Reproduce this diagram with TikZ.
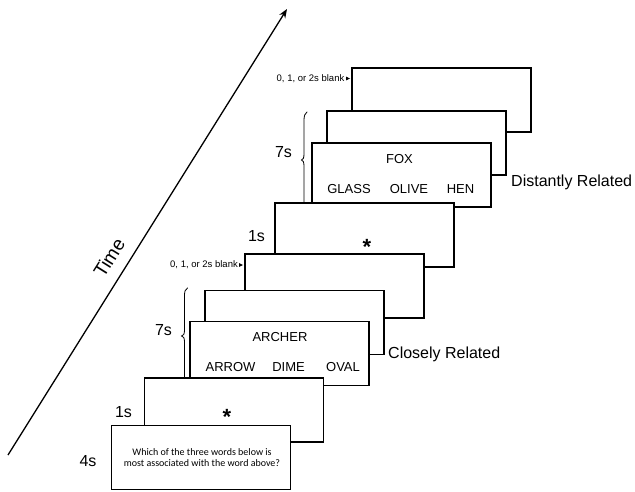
\documentclass[tikz,border=0pt]{standalone}
\usepackage{fontspec}
\setmainfont{Liberation Sans}
\newfontfamily\calibri{Carlito}
\usetikzlibrary{arrows.meta, calc}
\tikzset{
    slide/.style={draw=black, fill=white, line width=1.6pt, minimum width=179pt, minimum height=64pt, inner sep=0pt},
    word/.style={font=\fontsize{13}{15}\selectfont, inner sep=1pt},
    timing/.style={font=\fontsize{16}{18}\selectfont, inner sep=1pt},
    fixation/.style={font=\bfseries\fontsize{22}{24}\selectfont, anchor=base, inner sep=0pt},
    gaplabel/.style={font=\fontsize{9.5}{11}\selectfont, inner sep=1pt, anchor=east},
    gaptip/.style={-{Latex[length=4pt,width=4pt]}, line width=0.6pt, shorten >=1pt},
    condition/.style={font=\fontsize{16}{18}\selectfont, anchor=base west, inner sep=0pt},
    bracket/.style={line width=0.8pt, line cap=round}
}

\begin{document}
\begin{tikzpicture}[x=1pt, y=-1pt]
    \useasboundingbox (0,0) rectangle (635,491);
    % slides, back to front
    \node[slide] (blankB) at (441.5,100) {};
    \node[slide] (distB) at (416.5,143) {};
    \node[slide] (fox) at (401.5,175) {};
    \node[slide] (starB) at (364.5,235) {};
    \node[slide] (blankA) at (334.5,286) {};
    \node[slide] (closeB) at (294.5,322.5) {};
    \node[slide] (archer) at (279.5,353.5) {};
    \node[slide] (starA) at (234,410) {};
    \node[slide] (question) at (201,457.5) {};

    \node[word] (foxcue) at (399.5,159.5) {FOX};
    \node[word] (glass) at (349,189.5) {GLASS};
    \node[word] (olive) at (409,189.5) {OLIVE};
    \node[word] (hen) at (460.5,189.5) {HEN};
    \node[word] (archercue) at (280,337) {ARCHER};
    \node[word] (arrow) at (230.5,367) {ARROW};
    \node[word] (dime) at (288.5,367) {DIME};
    \node[word] (oval) at (343,367) {OVAL};
    \node[font=\calibri\fontsize{10}{11}\selectfont, align=center, inner sep=0pt] (prompt) at (202,458) {Which of the three words below is\\most associated with the word above?};

    \node[fixation] (fixA) at (227,424.5) {*};
    \node[fixation] (fixB) at (367,254.5) {*};

    \node[timing] (showQ) at (88,461) {4s};
    \node[timing] (showFixA) at (123.5,412.5) {1s};
    \node[timing] (showCloseA) at (163.5,330.5) {7s};
    \node[timing] (showFixB) at (256.5,236) {1s};
    \node[timing] (showDistA) at (283.5,152.5) {7s};

    \node[gaplabel] (gapA) at (239,265) {0, 1, or 2s blank};
    \draw[gaptip] (gapA.east) -- (gapA.east -| blankA.west);
    \node[gaplabel] (gapB) at (345.5,78.5) {0, 1, or 2s blank};
    \draw[gaptip] (gapB.east) -- (gapB.east -| blankB.west);

    \node[condition] (close) at (388,358.7) {Closely Related};
    \node[condition] (dist) at (511,186.7) {Distantly Related};

    \draw[bracket] (187.5,288) .. controls (185,289) and (184.5,292) .. (184.5,296) -- (184.5,330)
        .. controls (184.5,334) and (183.5,336) .. (181.5,336) .. controls (183.5,336) and (184.5,338) .. (184.5,342) -- (184.5,378);
    \draw[bracket] (307,112) .. controls (305,113) and (304,116) .. (304,120) -- (304,154)
        .. controls (304,158) and (303,160) .. (301.5,160) .. controls (303,160) and (304,162) .. (304,166) -- (304,203);

    \coordinate (past) at (8,455);
    \coordinate (future) at (287,9);
    \draw[-{Stealth[length=9pt,width=7pt]}, line width=1.3pt] (past) -- node[pos=0.42, sloped, above=8pt, font=\fontsize{19}{21}\selectfont] (timelbl) {Time} (future);
\end{tikzpicture}
\end{document}
